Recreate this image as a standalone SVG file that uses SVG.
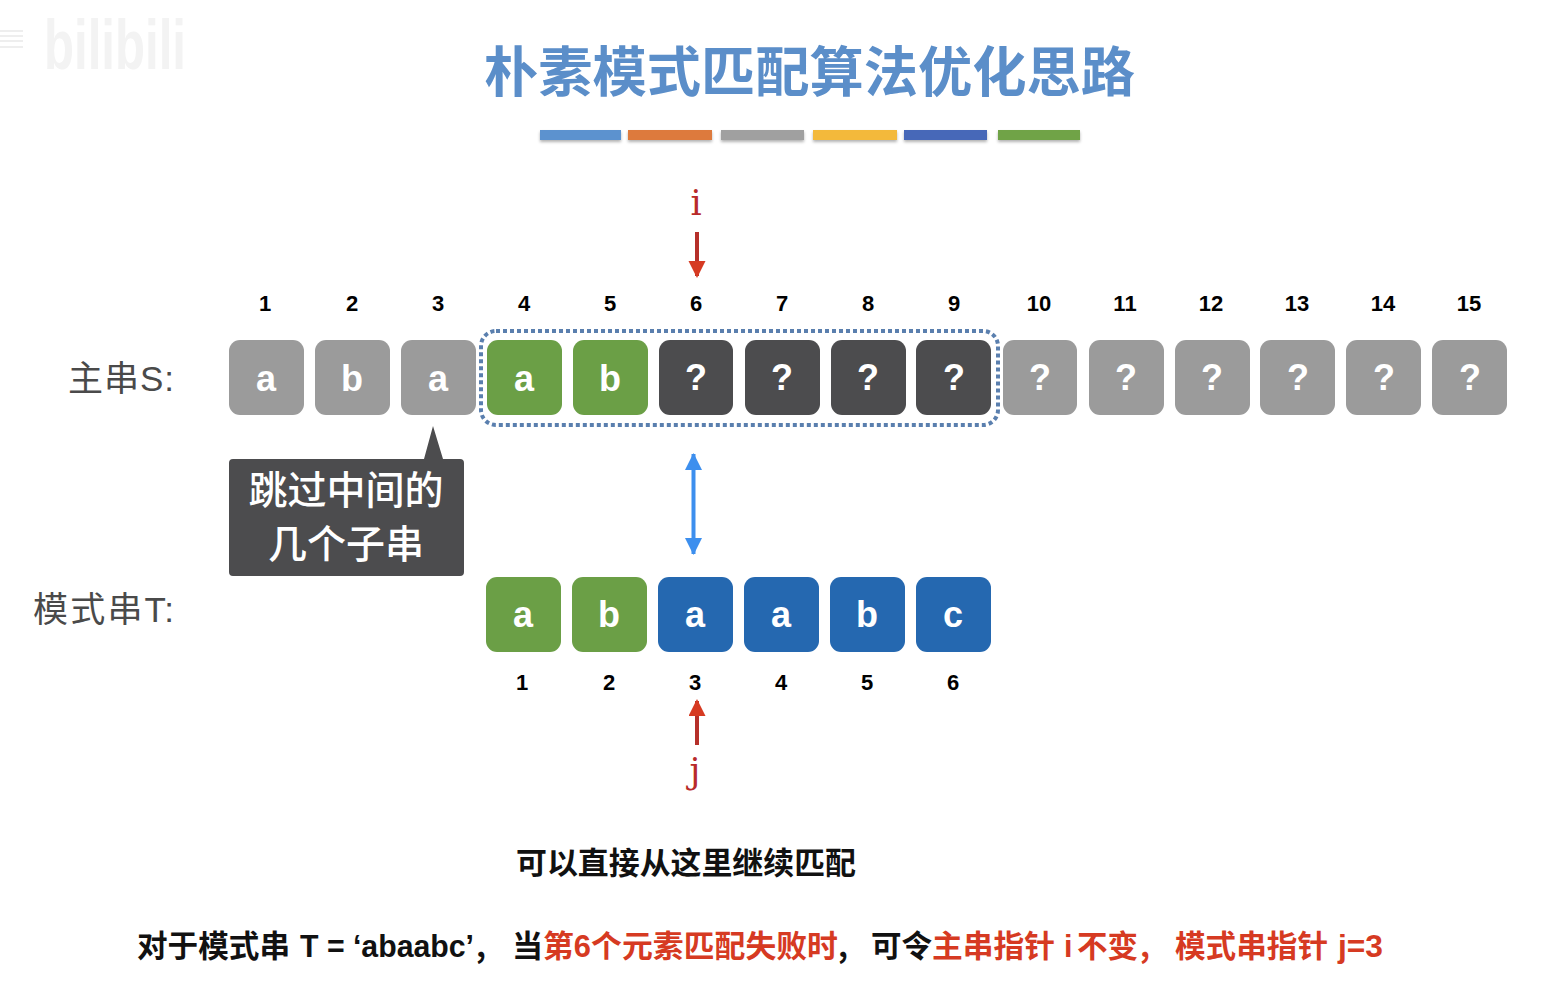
<svg xmlns="http://www.w3.org/2000/svg" width="1552" height="992" viewBox="0 0 1552 992">
<style>
text{font-family:"Liberation Sans","Noto Sans CJK SC",sans-serif}
.cjk{font-family:"Noto Sans CJK SC",sans-serif}
.box{stroke:none}
.g{fill:#9b9b9b}.gr{fill:#6b9f46}.d{fill:#4c4c4e}.b{fill:#2568b0}
.l{font-size:36px;font-weight:700;fill:#fff;text-anchor:middle}
.n{font-size:22px;font-weight:700;fill:#000;text-anchor:middle}
.lab{font-size:35px;fill:#4a4a4a}
.ptr{font-family:"DejaVu Serif",serif;font-size:35px;fill:#b82a2a;text-anchor:middle;font-weight:400}
.bar{filter:url(#s)}
.t{font-size:30.5px;font-weight:700}
.k{fill:#111}.r{fill:#d63a22}
</style>
<defs>
<filter id="s" x="-5%" y="-30%" width="110%" height="190%"><feDropShadow dx="0" dy="2" stdDeviation="1.5" flood-color="#000" flood-opacity=".3"/></filter>
<marker id="ar" markerUnits="userSpaceOnUse" markerWidth="18" markerHeight="18" refX="15" refY="8.5" orient="auto"><path d="M0 0L17 8.5L0 17Z" fill="#d63a22"/></marker>
<marker id="ab" markerUnits="userSpaceOnUse" markerWidth="18" markerHeight="18" refX="16" refY="8.5" orient="auto-start-reverse"><path d="M0 0L17 8.5L0 17Z" fill="#3d8fee"/></marker>
</defs>
<rect width="1552" height="992" fill="#fff"/>
<g id="watermark"><text x="44" y="69" font-size="70" font-weight="700" fill="#f3f3f3" textLength="142" lengthAdjust="spacingAndGlyphs">bilibili</text>
<path d="M0 31H23M0 36H23M0 41H23M0 47H23" stroke="#eeeeee" stroke-width="2" fill="none"/></g>
<g id="title"><text class="cjk" x="484" y="92" font-size="54" font-weight="700" fill="#5b8ec9" textLength="651" lengthAdjust="spacingAndGlyphs">朴素模式匹配算法优化思路</text>
<g class="bar"><rect x="540" y="130" width="81" height="10" fill="#5b92cf"/><rect x="628" y="130" width="84" height="10" fill="#dd7a3c"/><rect x="721" y="130" width="83" height="10" fill="#a0a0a0"/><rect x="813" y="130" width="84" height="10" fill="#f3b93a"/><rect x="904" y="130" width="83" height="10" fill="#4668b8"/><rect x="998" y="130" width="82" height="10" fill="#6fa347"/></g></g>
<g id="label-s"><text class="lab" x="68" y="391" textLength="106">主串S:</text></g>
<g id="label-t"><text class="lab" x="33" y="622" textLength="141">模式串T:</text></g>
<g id="s1"><rect class="box g" x="229" y="340" width="75" height="75" rx="11"/><text class="l" x="266" y="391">a</text><text class="n" x="265" y="311">1</text></g>
<g id="s2"><rect class="box g" x="315" y="340" width="75" height="75" rx="11"/><text class="l" x="352" y="391">b</text><text class="n" x="352" y="311">2</text></g>
<g id="s3"><rect class="box g" x="401" y="340" width="75" height="75" rx="11"/><text class="l" x="438" y="391">a</text><text class="n" x="438" y="311">3</text></g>
<g id="s4"><rect class="box gr" x="487" y="340" width="75" height="75" rx="11"/><text class="l" x="524" y="391">a</text><text class="n" x="524" y="311">4</text></g>
<g id="s5"><rect class="box gr" x="573" y="340" width="75" height="75" rx="11"/><text class="l" x="610" y="391">b</text><text class="n" x="610" y="311">5</text></g>
<g id="s6"><rect class="box d" x="659" y="340" width="74" height="75" rx="11"/><text class="l" x="696" y="390">?</text><text class="n" x="696" y="311">6</text></g>
<g id="s7"><rect class="box d" x="745" y="340" width="75" height="75" rx="11"/><text class="l" x="782" y="390">?</text><text class="n" x="782" y="311">7</text></g>
<g id="s8"><rect class="box d" x="831" y="340" width="75" height="75" rx="11"/><text class="l" x="868" y="390">?</text><text class="n" x="868" y="311">8</text></g>
<g id="s9"><rect class="box d" x="916" y="340" width="75" height="75" rx="11"/><text class="l" x="954" y="390">?</text><text class="n" x="954" y="311">9</text></g>
<g id="s10"><rect class="box g" x="1003" y="340" width="74" height="75" rx="11"/><text class="l" x="1040" y="390">?</text><text class="n" x="1039" y="311">10</text></g>
<g id="s11"><rect class="box g" x="1089" y="340" width="75" height="75" rx="11"/><text class="l" x="1126" y="390">?</text><text class="n" x="1125" y="311">11</text></g>
<g id="s12"><rect class="box g" x="1175" y="340" width="75" height="75" rx="11"/><text class="l" x="1212" y="390">?</text><text class="n" x="1211" y="311">12</text></g>
<g id="s13"><rect class="box g" x="1260" y="340" width="75" height="75" rx="11"/><text class="l" x="1298" y="390">?</text><text class="n" x="1297" y="311">13</text></g>
<g id="s14"><rect class="box g" x="1346" y="340" width="75" height="75" rx="11"/><text class="l" x="1384" y="390">?</text><text class="n" x="1383" y="311">14</text></g>
<g id="s15"><rect class="box g" x="1432" y="340" width="75" height="75" rx="11"/><text class="l" x="1470" y="390">?</text><text class="n" x="1469" y="311">15</text></g>
<g id="window"><rect x="481" y="331" width="517" height="94" rx="15" fill="none" stroke="#5a7fae" stroke-width="4" stroke-dasharray="4 3"/></g>
<g id="callout"><path d="M229 463a4 4 0 0 1 4-4H424L433 426L443 459H460a4 4 0 0 1 4 4V572a4 4 0 0 1-4 4H233a4 4 0 0 1-4-4Z" fill="#4c4c4e"/>
<text class="cjk" x="346" y="504" font-size="39" font-weight="500" fill="#fff" text-anchor="middle" textLength="195">跳过中间的</text>
<text class="cjk" x="346" y="558" font-size="39" font-weight="500" fill="#fff" text-anchor="middle" textLength="156">几个子串</text></g>
<g id="t1"><rect class="box gr" x="486" y="577" width="75" height="75" rx="11"/><text class="l" x="523" y="627">a</text><text class="n" x="522" y="690">1</text></g>
<g id="t2"><rect class="box gr" x="572" y="577" width="75" height="75" rx="11"/><text class="l" x="609" y="627">b</text><text class="n" x="609" y="690">2</text></g>
<g id="t3"><rect class="box b" x="658" y="577" width="75" height="75" rx="11"/><text class="l" x="695" y="627">a</text><text class="n" x="695" y="690">3</text></g>
<g id="t4"><rect class="box b" x="744" y="577" width="75" height="75" rx="11"/><text class="l" x="781" y="627">a</text><text class="n" x="781" y="690">4</text></g>
<g id="t5"><rect class="box b" x="830" y="577" width="75" height="75" rx="11"/><text class="l" x="867" y="627">b</text><text class="n" x="867" y="690">5</text></g>
<g id="t6"><rect class="box b" x="916" y="577" width="75" height="75" rx="11"/><text class="l" x="953" y="627">c</text><text class="n" x="953" y="690">6</text></g>
<g id="ptr-i"><text class="ptr" x="696" y="215">i</text></g>
<g id="ptr-j"><text class="ptr" x="695" y="783">j</text></g>
<g id="connectors" fill="none">
<line x1="697" y1="232" x2="697" y2="276" stroke="#b5302a" stroke-width="4" marker-end="url(#ar)"/>
<line x1="697" y1="745" x2="697" y2="701" stroke="#b5302a" stroke-width="4" marker-end="url(#ar)"/>
<line x1="693.500" y1="454" x2="693.500" y2="554" stroke="#3d8fee" stroke-width="4" marker-start="url(#ab)" marker-end="url(#ab)"/>
</g>
<g id="notes">
<text class="cjk" x="516" y="874" font-size="30.500" font-weight="700" fill="#111" textLength="340" lengthAdjust="spacingAndGlyphs">可以直接从这里继续匹配</text>
<text class="t k" x="137" y="957" textLength="153" lengthAdjust="spacingAndGlyphs">对于模式串</text>
<text class="t k" x="300" y="957" textLength="174" lengthAdjust="spacingAndGlyphs">T = ‘abaabc’</text>
<text class="t k cjk" x="476" y="957">,</text>
<text class="t k" x="512" y="957" textLength="31" lengthAdjust="spacingAndGlyphs">当</text>
<text class="t r" x="543" y="957" textLength="295" lengthAdjust="spacingAndGlyphs">第6个元素匹配失败时</text>
<text class="t k cjk" x="838" y="957">,</text>
<text class="t k" x="871" y="957" textLength="61" lengthAdjust="spacingAndGlyphs">可令</text>
<text class="t r" x="932" y="957" textLength="123" lengthAdjust="spacingAndGlyphs">主串指针</text>
<text class="t r" x="1064" y="957">i</text>
<text class="t r" x="1077" y="957" textLength="61" lengthAdjust="spacingAndGlyphs">不变</text>
<text class="t r cjk" x="1140" y="957">,</text>
<text class="t r" x="1175" y="957" textLength="153" lengthAdjust="spacingAndGlyphs">模式串指针</text>
<text class="t r" x="1338" y="957" textLength="45" lengthAdjust="spacingAndGlyphs">j=3</text>
</g>
</svg>
